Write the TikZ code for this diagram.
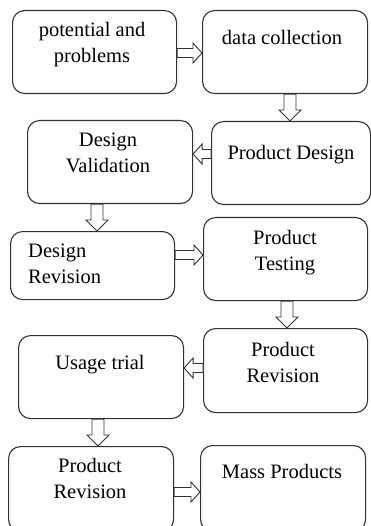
\documentclass[tikz,border=0pt]{standalone}
\usepackage{fontspec}
\setmainfont{Liberation Serif}
\usetikzlibrary{calc}
\tikzset{
  box/.style={draw=black!80, line width=1.1pt, rounded corners=12pt, anchor=north west, inner sep=0pt},
  txt/.style={font=\fontsize{20.5}{26}\selectfont, align=center, inner sep=0pt, anchor=base, text=black},
  txtl/.style={font=\fontsize{20.5}{26}\selectfont, align=left, inner sep=0pt, anchor=base west, text=black},
  blockarrow/.style n args={3}{draw=black!80, line width=0.9pt, fill=white, line join=miter,
    to path={
      ($(\tikztostart)!#1!90:(\tikztotarget)$)
      -- ($(\tikztotarget)!#3!(\tikztostart)!#1!90:(\tikztotarget)$)
      -- ($(\tikztotarget)!#3!(\tikztostart)!#2!90:(\tikztotarget)$)
      -- (\tikztotarget)
      -- ($(\tikztotarget)!#3!(\tikztostart)!#2!-90:(\tikztotarget)$)
      -- ($(\tikztotarget)!#3!(\tikztostart)!#1!-90:(\tikztotarget)$)
      -- ($(\tikztostart)!#1!-90:(\tikztotarget)$)
      -- cycle}},
  harr/.style={blockarrow={4.5pt}{10pt}{9pt}},
  varr/.style={blockarrow={6pt}{11pt}{11pt}}
}
\begin{document}
\begin{tikzpicture}[x=1pt,y=-1pt]
\useasboundingbox[fill=white] (0,0) rectangle (371,526);
\begin{scope}
\clip (0,0) rectangle (371,526);
\node[box, minimum width=164pt, minimum height=83pt] (b1) at (12,10) {};
\node[box, minimum width=165pt, minimum height=83pt] (b2) at (202,10) {};
\node[box, minimum width=159pt, minimum height=83pt] (b3) at (211,121) {};
\node[box, minimum width=165pt, minimum height=83pt] (b4) at (27,120) {};
\node[box, minimum width=164pt, minimum height=68pt] (b5) at (10,231) {};
\node[box, minimum width=164pt, minimum height=83pt] (b6) at (203,217) {};
\node[box, minimum width=164pt, minimum height=84pt] (b7) at (203,328) {};
\node[box, minimum width=165pt, minimum height=83pt] (b8) at (18,335) {};
\node[box, minimum width=165pt, minimum height=85pt] (b9) at (8,446) {};
\node[box, minimum width=165pt, minimum height=86pt] (b10) at (200,445) {};

\node[txt] (t1) at (92,63) {potential and\\problems};
\node[txt] (t2) at (282,45) {data collection};
\node[txt] (t3) at (291,160) {Product Design};
\node[txt] (t4) at (108,173) {Design\\Validation};
\node[txtl] (t5) at (28,283) {Design\\Revision};
\node[txt] (t6) at (285,270) {Product\\Testing};
\node[txt] (t7) at (283,382) {Product\\Revision};
\node[txt] (t8) at (100,369) {Usage trial};
\node[txt] (t9) at (90,498) {Product\\Revision};
\node[txt] (t10) at (282,478) {Mass Products};

\draw[harr] (b1.east |- 0,53) to (b2.west |- 0,53);
\draw[varr] (b2.south -| 290,0) to (b3.north -| 290,0);
\draw[harr] (b3.west |- 0,154) to (b4.east |- 0,154);
\draw[varr] (b4.south -| 97,0) to (b5.north -| 97,0);
\draw[harr] (b5.east |- 0,255) to (b6.west |- 0,255);
\draw[varr] (b6.south -| 287,0) to (b7.north -| 287,0);
\draw[harr] (b7.west |- 0,368) to (b8.east |- 0,368);
\draw[varr] (b8.south -| 98,0) to (b9.north -| 98,0);
\draw[harr] (b9.east |- 0,492) to (b10.west |- 0,492);
\end{scope}
\end{tikzpicture}
\end{document}
